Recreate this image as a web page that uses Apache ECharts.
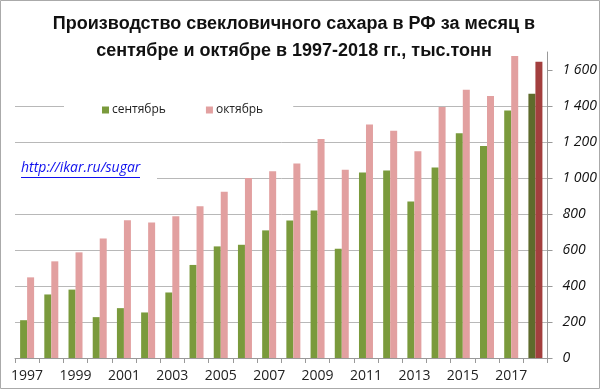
<!DOCTYPE html>
<html><head><meta charset="utf-8">
<script src="https://cdn.jsdelivr.net/npm/echarts@6/dist/echarts.min.js"></script>
<style>html,body{margin:0;padding:0;background:#fff}#c{width:600px;height:389px}</style>
</head><body><div id="c"></div>
<script>
const years = ['1997','1998','1999','2000','2001','2002','2003','2004','2005','2006','2007','2008','2009','2010','2011','2012','2013','2014','2015','2016','2017','2018'];
const september = [210,353,380,227,277,253,364,517,620,629,709,764,820,607,1030,1041,869,1058,1248,1178,1375,1468];
const october = [448,537,587,664,765,753,788,843,923,1000,1037,1080,1217,1046,1297,1262,1148,1395,1490,1455,1678,1646];
const yTicks = [0,200,400,600,800,1000,1200,1400,1600];
const seriesNames = ['сентябрь','октябрь'];
const titleText = 'Производство свекловичного сахара в РФ за месяц в\nсентябре и октябре в 1997-2018 гг., тыс.тонн';
const linkText = 'http://ikar.ru/sugar';

const greenC = '#7a9a3c', pinkC = '#e2a0a0', darkGreen = '#5e6b2c', darkRed = '#a33f3e';
const lastIdx = years.length - 1;
function mk(arr, last) {
  return arr.map((v, i) => i === lastIdx ? {value: v, itemStyle: {color: last}} : v);
}
const fmt = v => { const s = String(v); return s.length > 3 ? s.slice(0, s.length-3) + ' ' + s.slice(-3) : s; };

const chart = echarts.init(document.getElementById('c'), null, {renderer: 'canvas'});
chart.setOption({
  animation: false,
  backgroundColor: '#fff',
  title: {
    text: titleText, left: 289, textAlign: 'center', top: 6,
    textStyle: {fontFamily: 'Liberation Sans', fontWeight: 'bold', fontSize: 18, lineHeight: 27, color: '#111'}
  },
  legend: {
    data: seriesNames, left: 64, top: 99, itemWidth: 7, itemHeight: 7, itemGap: 40,
    icon: 'rect', backgroundColor: '#fff', padding: [5, 30, 5, 38],
    textStyle: {fontFamily: 'Open Sans', fontSize: 12, color: '#222', padding: [0,0,0,-2]}
  },
  grid: {left: 15, right: 52, top: 52, bottom: 31, containLabel: false},
  xAxis: {
    type: 'category', data: years, boundaryGap: true,
    axisLine: {lineStyle: {color: '#999'}},
    axisTick: {show: true, interval: 0, length: 5, lineStyle: {color: '#999'}},
    axisLabel: {interval: 1, margin: 11, fontFamily: 'Open Sans', fontSize: 14, color: '#222'}
  },
  yAxis: {
    type: 'value', position: 'right', min: 0, max: 1700, interval: 200,
    axisLine: {show: true, lineStyle: {color: '#999'}},
    axisTick: {show: true, length: 5, customValues: yTicks, lineStyle: {color: '#999'}},
    axisLabel: {customValues: yTicks, margin: 15, formatter: fmt, fontFamily: 'Open Sans', fontStyle: 'italic', fontSize: 14, color: '#111'},
    splitLine: {show: true, showMaxLine: false, lineStyle: {color: ['#b8b8b8','#b8b8b8','#b8b8b8','#b8b8b8','#b8b8b8','#b8b8b8','#b8b8b8','#b8b8b8','#b8b8b8','rgba(0,0,0,0)']}}
  },
  series: [
    {name: seriesNames[0], type: 'bar', barWidth: 7, barGap: '0%', itemStyle: {color: greenC}, data: mk(september, darkGreen)},
    {name: seriesNames[1], type: 'bar', barWidth: 7, barGap: '0%', itemStyle: {color: pinkC}, data: mk(october, darkRed)}
  ],
  graphic: [
    {type: 'rect', shape: {x: 14, y: 160, width: 143, height: 22}, style: {fill: '#fff'}, z: 10},
    {type: 'text', x: 21, y: 161, z: 11, style: {text: linkText, fill: '#1010ee', fontFamily: 'Open Sans', fontStyle: 'italic', fontSize: 14}},
    {type: 'line', shape: {x1: 21, y1: 177.5, x2: 140, y2: 177.5}, style: {stroke: '#1010ee', lineWidth: 1}, z: 11},
    {type: 'rect', shape: {x: 0.5, y: 0.5, width: 599, height: 388}, style: {fill: 'none', stroke: '#aaa', lineWidth: 1}, z: 20}
  ]
});
</script></body></html>
